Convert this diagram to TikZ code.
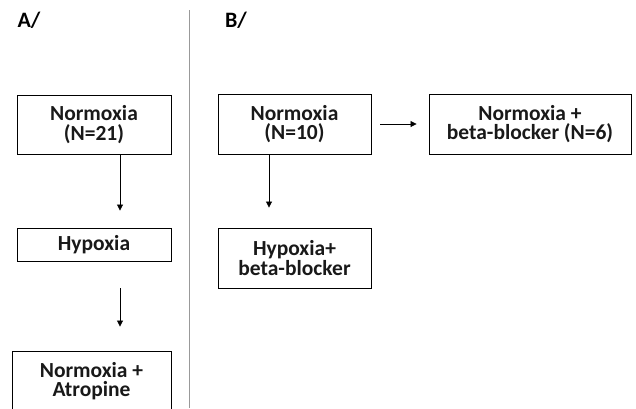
\documentclass[tikz,border=0pt]{standalone}
\usepackage{fontspec}
\setmainfont{Carlito}
\usetikzlibrary{arrows.meta}
\begin{document}
\begin{tikzpicture}[x=1pt,y=-1pt,
  box/.style={draw,line width=0.9pt,align=center,inner sep=0pt,text=black!90,
    font=\bfseries\fontsize{21.5}{19.5}\selectfont},
  lbl/.style={font=\bfseries\fontsize{22}{24}\selectfont},
  arr/.style={line width=0.8pt,-{Triangle[length=6pt,width=6pt]}}]
\useasboundingbox (0,0) rectangle (636,408);
\node[lbl] (la) at (29,20) {A/};
\node[lbl] (lb) at (236,20) {B/};
\coordinate (t) at (189,10);
\coordinate (b) at (189,408);
\draw[gray!80,line width=1pt] (t) -- (b);
\node[box,minimum width=154pt,minimum height=59pt] (a1) at (94,124.5) {Normoxia\\(N=21)};
\node[box,minimum width=154pt,minimum height=33pt] (a2) at (94,244.5) {Hypoxia};
\node[box,minimum width=159pt,minimum height=60pt] (a3) at (91.5,381) {Normoxia +\\Atropine};
\node[box,minimum width=153pt,minimum height=60pt] (b1) at (294.5,124) {Normoxia\\(N=10)};
\node[box,minimum width=202pt,minimum height=60pt] (b2) at (530,124) {Normoxia +\\beta-blocker (N=6)};
\node[box,minimum width=153pt,minimum height=60pt] (b3) at (294.5,258) {Hypoxia+\\beta-blocker};
\draw[arr] ([xshift=26pt]a1.south) -- ([xshift=26pt,yshift=17pt]a2.north);
\draw[arr] ([xshift=26pt,yshift=-27pt]a2.south) -- ([xshift=28.5pt,yshift=24pt]a3.north);
\draw[arr] ([xshift=-25.5pt]b1.south) -- ([xshift=-25.5pt,yshift=20pt]b3.north);
\draw[arr] ([xshift=9pt]b1.east) -- ([xshift=-12pt]b2.west);
\end{tikzpicture}
\end{document}
